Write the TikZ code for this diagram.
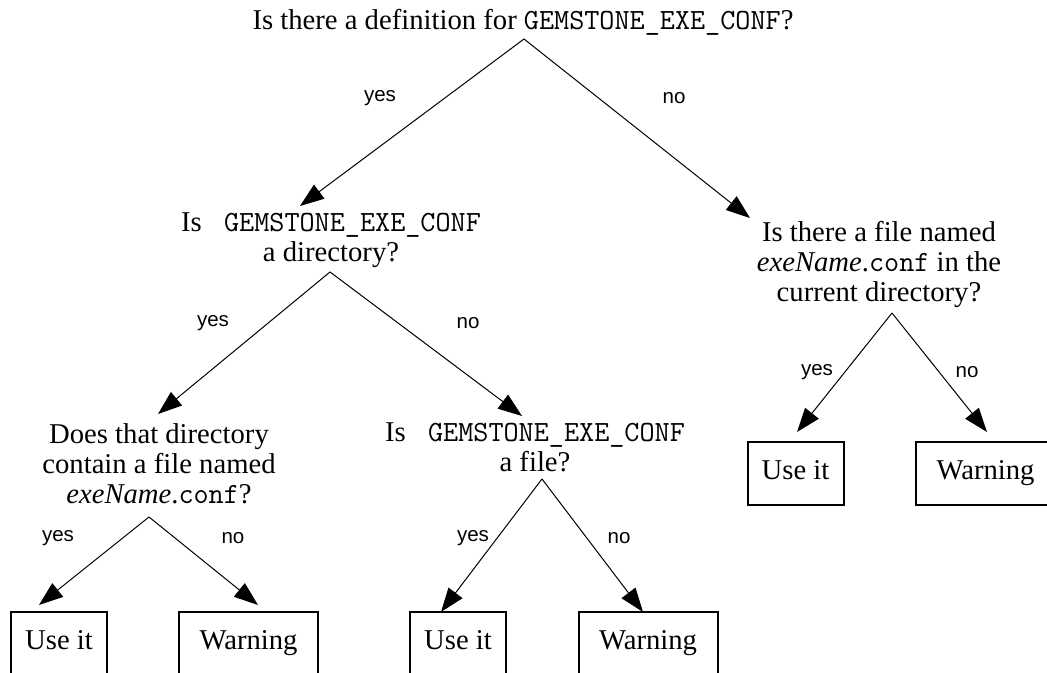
\documentclass[tikz,border=0pt]{standalone}
\usepackage{fontspec}
\setmainfont{Liberation Serif}
\setsansfont{Liberation Sans}
\usetikzlibrary{arrows.meta}
% code words in a slab-serif typewriter face
\newcommand{\code}[1]{{\fontsize{22}{22.5}\selectfont\ttfamily #1}}
\begin{document}
\begin{tikzpicture}[x=0.75pt,y=-0.75pt,
  question/.style={align=center,inner sep=0pt,font=\fontsize{21.5}{22.5}\selectfont},
  answer/.style={inner sep=0pt,font=\sffamily\fontsize{15.4}{18}\selectfont},
  leaf/.style={draw,line width=1.5pt,inner sep=0pt,minimum height=47.25pt,
    text height=14pt,text depth=4.5pt,font=\fontsize{21.5}{22.5}\selectfont},
  short/.style={leaf,minimum width=72pt},
  long/.style={leaf,minimum width=104.25pt},
  arr/.style={-{Triangle[length=18pt,width=13pt]},line width=0.75pt},
]
\useasboundingbox (0,0) rectangle (1047,673);
\clip (0,0) rectangle (1047,673);

% questions
\node[question] (q0) at (523,22) {Is there a definition for \code{GEMSTONE\_EXE\_CONF}?};
\node[question] (q1) at (331,240) {Is \code{\ GEMSTONE\_EXE\_CONF}\\a directory?};
\node[question] (q3) at (879,265) {Is there a file named\\{\itshape exeName}.\code{conf} in the\\current directory?};
\node[question] (q2) at (159,464) {Does that directory\\contain a file named\\{\itshape exeName}.\code{conf}?};
\node[question] (q4) at (535,447) {Is \code{\ GEMSTONE\_EXE\_CONF}\\a file?};

% outcomes
\node[short] (u2) at (59,643.5) {Use it};
\node[long]  (w2) at (248.5,643.5) {Warning};
\node[short] (u4) at (458,643.5) {Use it};
\node[long]  (w4) at (648,643.5) {Warning};
\node[short] (u3) at (795.5,473.5) {Use it};
\node[long]  (w3) at (985.5,473.5) {Warning};

% branch points under each question
\coordinate (a0) at (524,39);
\coordinate (a1) at (330,272);
\coordinate (a2) at (149,517);
\coordinate (a4) at (542,479);
\coordinate (a3) at (892,313);

% arrow ends
\coordinate (t1) at (300,206);
\coordinate (t3) at (750,218);
\coordinate (t2) at (158,414);
\coordinate (t4) at (522,416);
\coordinate (tu2) at (39,605);
\coordinate (tw2) at (258,605);
\coordinate (tu4) at (441,612);
\coordinate (tw4) at (643,612);
\coordinate (tu3) at (797,432);
\coordinate (tw3) at (987,432);

\draw[arr] (a0) -- (t1);
\draw[arr] (a0) -- (t3);
\draw[arr] (a1) -- (t2);
\draw[arr] (a1) -- (t4);
\draw[arr] (a2) -- (tu2);
\draw[arr] (a2) -- (tw2);
\draw[arr] (a4) -- (tu4);
\draw[arr] (a4) -- (tw4);
\draw[arr] (a3) -- (tu3);
\draw[arr] (a3) -- (tw3);

% branch labels
\node[answer] (y0) at (380,98) {yes};
\node[answer] (n0) at (674,98) {no};
\node[answer] (y1) at (213,323) {yes};
\node[answer] (n1) at (468,323) {no};
\node[answer] (y2) at (58,538) {yes};
\node[answer] (n2) at (233,538) {no};
\node[answer] (y4) at (473,538) {yes};
\node[answer] (n4) at (619,538) {no};
\node[answer] (y3) at (817,372) {yes};
\node[answer] (n3) at (967,372) {no};
\end{tikzpicture}
\end{document}
